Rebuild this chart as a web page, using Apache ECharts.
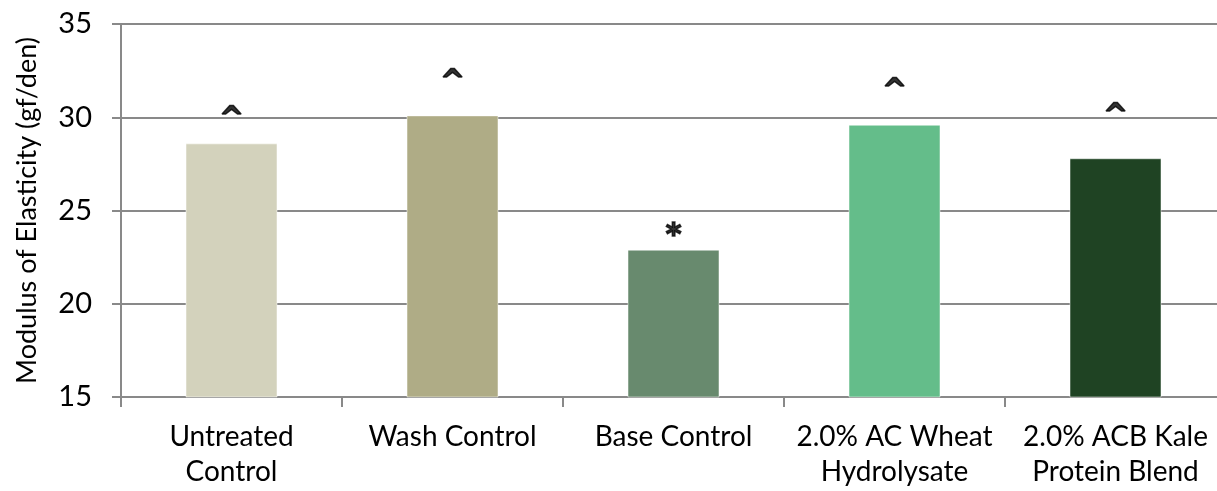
<!DOCTYPE html>
<html><head><meta charset="utf-8">
<script src="https://cdn.jsdelivr.net/npm/echarts@6/dist/echarts.min.js"></script>
<style>html,body{margin:0;padding:0;background:#fff}#c{width:1217px;height:491px}</style>
</head><body><div id="c"></div>
<script>
const categories = ['Untreated\nControl', 'Wash Control', 'Base Control', '2.0% AC Wheat\nHydrolysate', '2.0% ACB Kale\nProtein Blend'];
const modulusValues = [28.6, 30.1, 22.9, 29.6, 27.8];
const barColors = ['#D3D2BC', '#AFAC86', '#688A6E', '#64BD8A', '#1F4323'];
const markerSymbols = ['^', '^', '*', '^', '^'];
const markerValues = [30.35, 32.3, 24.1, 31.8, 30.5];
const yTicks = { min: 15, max: 35, interval: 5 };

const chart = echarts.init(document.getElementById('c'));
const FONT = 'Lato';
chart.setOption({
  animation: false,
  grid: { left: 121, top: 24, bottom: 94, width: 1105, outerBoundsMode: 'none', containLabel: false },
  xAxis: {
    type: 'category',
    data: categories,
    axisLine: { lineStyle: { color: '#898989', width: 2 } },
    axisTick: { show: true, length: 10, lineStyle: { color: '#898989', width: 2 } },
    axisLabel: { color: '#000', fontFamily: FONT, fontSize: 28, lineHeight: 35, margin: 22, interval: 0 }
  },
  yAxis: {
    type: 'value',
    min: yTicks.min, max: yTicks.max, interval: yTicks.interval,
    name: 'Modulus of Elasticity (gf/den)',
    nameLocation: 'middle', nameGap: 80,
    nameTextStyle: { color: '#000', fontFamily: FONT, fontSize: 27 },
    axisLine: { show: true, lineStyle: { color: '#898989', width: 2 } },
    axisTick: { show: true, length: 9, lineStyle: { color: '#898989', width: 2 } },
    axisLabel: { color: '#000', fontFamily: FONT, fontSize: 29, margin: 29 },
    splitLine: { lineStyle: { color: '#898989', width: 2 } }
  },
  series: [
    {
      type: 'bar',
      data: modulusValues.map((v, i) => ({ value: v, itemStyle: { color: barColors[i] } })),
      barWidth: 92,
      itemStyle: { borderColor: 'rgba(255,255,255,0.5)', borderWidth: 1 }
    },
    {
      type: 'scatter',
      symbolSize: 0,
      data: markerValues.map((v, i) => ({ value: [i, v], label: { formatter: markerSymbols[i] } })),
      label: { show: true, position: 'inside', offset: [0, 9], color: '#000', fontFamily: 'DejaVu Sans', fontWeight: 'bold', fontSize: 30, textBorderColor: '#000', textBorderWidth: 1.5 },
      z: 5
    }
  ]
});
</script></body></html>
